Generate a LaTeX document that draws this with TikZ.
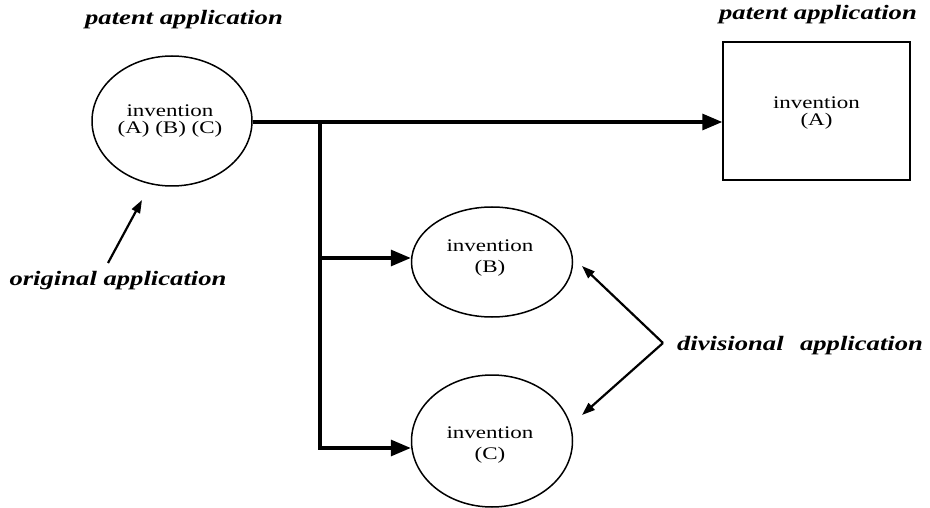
\documentclass[tikz,border=0pt]{standalone}
\usepackage{fontspec}
\setmainfont{Liberation Serif}[FakeStretch=1.3]
\newfontfamily\tfont{LiberationSerif-BoldItalic.ttf}[FakeStretch=1.3]
\usetikzlibrary{shapes.geometric,arrows.meta}
\tikzset{
  body/.style={font=\fontsize{17.7}{20}\selectfont, align=center, inner sep=0pt},
  oval/.style={ellipse, draw, line width=1.5pt, inner sep=0pt},
  titletext/.style={font=\fontsize{20.5}{24}\tfont, inner sep=0pt},
  mainline/.style={line width=3.2pt, -{Triangle[length=20pt,width=16pt]}},
  thinarrow/.style={line width=2.2pt, -{Triangle[length=13pt,width=9pt]}},
}
\begin{document}
\begin{tikzpicture}[x=1pt,y=-1pt]
\useasboundingbox (0,0) rectangle (930,508);
% nodes
\node[oval, minimum width=160pt, minimum height=130pt] (orig) at (172,121) {};
\node[body] at (170,121) {invention\\[-3pt](A) (B) (C)};
\node[draw, line width=1.5pt, minimum width=187pt, minimum height=138pt, inner sep=0pt] (box) at (816.5,111) {};
\node[body] at (816.5,113) {invention\\[-3pt](A)};
\node[oval, minimum width=161pt, minimum height=110pt] (B) at (492,262) {};
\node[body] at (490,258) {invention\\[1pt](B)};
\node[oval, minimum width=161pt, minimum height=132pt] (C) at (492,441) {};
\node[body] at (490,445) {invention\\[1pt](C)};
% labels
\node[titletext] (t1) at (184,20) {patent application};
\node[titletext] (t2) at (818,15) {patent application};
\node[titletext] (ol) at (118,281) {original application};
\node[titletext] (dl) at (800,346) {divisional\hspace{0.8em}application};
% connectors
\coordinate (j) at (320,122);
\coordinate (jb) at (320,258);
\coordinate (jc) at (320,448);
\draw[mainline] (orig.east |- j) -- (j -| box.west);
\draw[mainline] (j) -- (jc) -- (jc -| C.west);
\draw[mainline] (jb) -- (jb -| B.west);
\coordinate (apex) at (663,343);
\coordinate (tb) at (582,266);
\coordinate (tc) at (582,415);
\draw[thinarrow] (apex) -- (tb);
\draw[thinarrow] (apex) -- (tc);
\coordinate (os) at (108,263);
\coordinate (oe) at (142,200);
\draw[thinarrow] (os) -- (oe);
\end{tikzpicture}
\end{document}
